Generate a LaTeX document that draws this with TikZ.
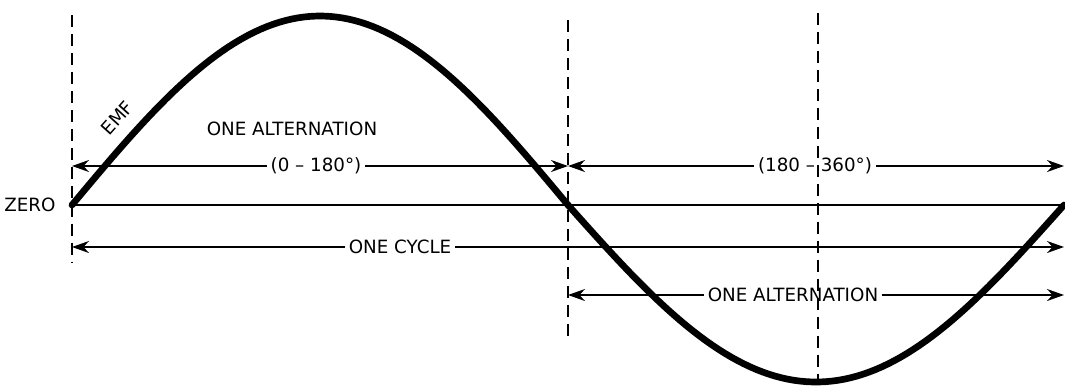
\documentclass[tikz,border=0pt]{standalone}
\usepackage{fontspec}
\setmainfont{DejaVu Sans}
\usepackage{tikz}
\usetikzlibrary{arrows.meta, calc}

\begin{document}
\begin{tikzpicture}[x=0.02cm, y=-0.02cm, >={Stealth[length=3.4mm, width=2.4mm, inset=1.1mm]},
  wave/.style={line width=3.8pt, line cap=round, line join=round},
  guide/.style={line width=1pt, dash pattern=on 6.8pt off 4pt},
  dim/.style={->, line width=0.9pt},
  lbl/.style={font=\fontsize{10.4}{12}\selectfont, fill=white, inner sep=2pt}]
\useasboundingbox (0,0) rectangle (1065,387);
% end points of the dimension lines
\coordinate (a0) at (72,166);
\coordinate (a1) at (568,166);
\coordinate (a2) at (1064,166);
\coordinate (c0) at (72,247);
\coordinate (c2) at (1064,247);
\coordinate (b0) at (568,295);
\coordinate (b2) at (1064,295);
% zero axis
\node[font=\fontsize{10.4}{12}\selectfont] (zero) at (30,205) {ZERO};
\draw[line width=1.4pt] (72,205) -- (1064,205);
% labels
\node[lbl, fill=none] (alt1) at (292,129) {ONE ALTERNATION};
\node[lbl] (deg1) at (316,166) {(0 – 180°)};
\node[lbl] (deg2) at (815,166) {(180 – 360°)};
\node[lbl] (cycle) at (400,247) {ONE CYCLE};
\node[lbl] (alt2) at (793,295) {ONE ALTERNATION};
\node[font=\fontsize{10.4}{12}\selectfont, rotate=48, inner sep=0pt] (emf) at (117,118) {EMF};
% dimension arrows
\draw[dim] (deg1) -- (a0);
\draw[dim] (deg1) -- (a1);
\draw[dim] (deg2) -- (a1);
\draw[dim] (deg2) -- (a2);
\draw[dim] (cycle) -- (c0);
\draw[dim] (cycle) -- (c2);
\draw[dim] (alt2) -- (b0);
\draw[dim] (alt2) -- (b2);
% guide lines
\draw[guide] (72,15) -- (72,262);
\draw[guide] (568,20) -- (568,342);
\draw[guide] (818,13) -- (818,382);
% sine wave
\draw[wave] plot[domain=72:568, samples=80] (\x, {205-189*sin((\x-72)*0.3629)});
\draw[wave] plot[domain=568:1064, samples=80] (\x, {205+177*sin((\x-568)*0.3629)});
\end{tikzpicture}
\end{document}
